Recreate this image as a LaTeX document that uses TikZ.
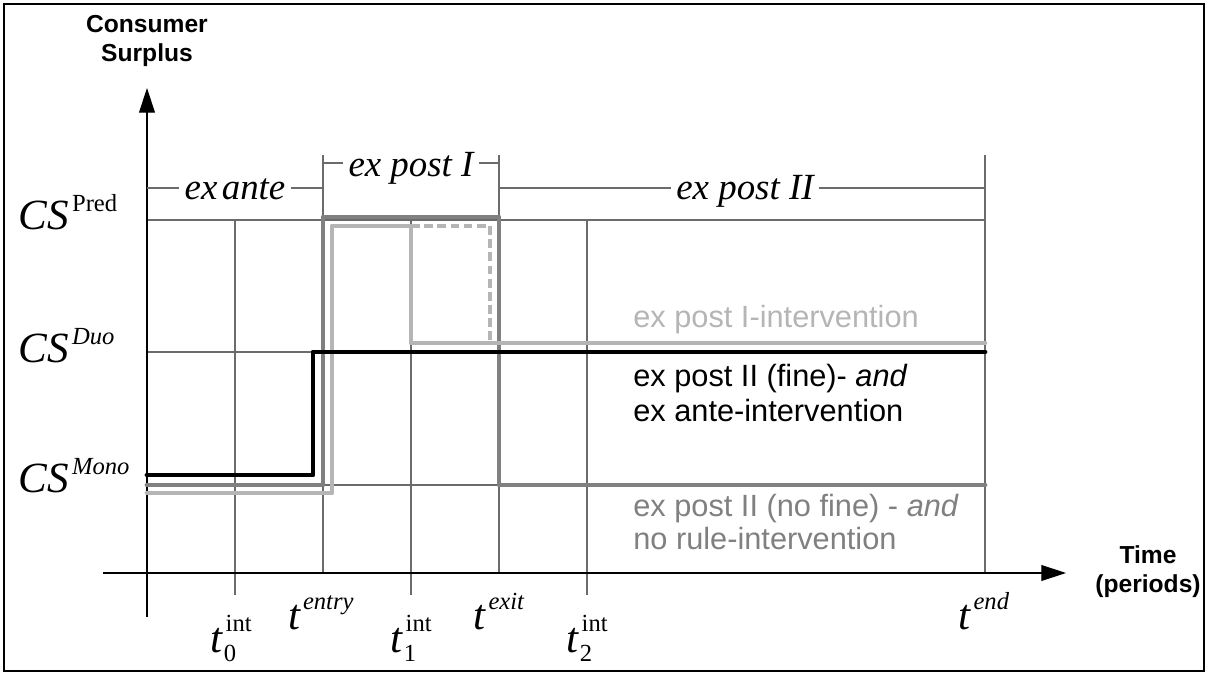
\documentclass[tikz,border=0pt]{standalone}
\usepackage{fontspec}
\setmainfont{Liberation Serif}
\setsansfont{Liberation Sans}
\usetikzlibrary{arrows.meta}
\newcommand{\CSlab}[1]{\textit{CS}\kern2pt\raisebox{10.5pt}{\fontsize{14}{14}\selectfont #1}}
\newcommand{\tsup}[1]{\textit{t}\kern1pt\raisebox{11.5pt}{\fontsize{14}{14}\selectfont\itshape #1}}
\newcommand{\tint}[1]{\textit{t}\kern0.5pt\rlap{\raisebox{-5pt}{\fontsize{14}{14}\selectfont #1}}\kern1pt\raisebox{12pt}{\fontsize{14}{14}\selectfont int}}

\begin{document}
\begin{tikzpicture}[x=0.02cm,y=-0.02cm,
  grid/.style={line width=0.6pt,color=cgrid},
  axis/.style={line width=0.6pt,-{Triangle[length=14pt,width=9pt]}},
  curve/.style={line width=2.8pt,line cap=round,line join=round},
  big/.style={font=\fontsize{24.5}{24.5}\selectfont,inner sep=0pt},
  phase/.style={font=\fontsize{21}{21}\selectfont\itshape,inner sep=3pt,anchor=base},
  legend/.style={font=\sffamily\fontsize{17.5}{17.5}\selectfont,anchor=base west,inner sep=0pt},
  axlabel/.style={font=\sffamily\bfseries\fontsize{14}{16.5}\selectfont,align=center}]
\definecolor{cgrid}{rgb}{0.42,0.42,0.42}
\definecolor{cdark}{rgb}{0.502,0.502,0.502}
\definecolor{clight}{rgb}{0.71,0.71,0.71}
\definecolor{cfine}{rgb}{0.0,0.0,0.0}
%
\useasboundingbox (0,0) rectangle (1208,675);
\draw[line width=1.1pt] (4,4) rectangle (1204,671);
%
\draw[grid] (147,220) -- (985,220);
\draw[grid] (147,352) -- (985,352);
\draw[grid] (147,485) -- (985,485);
\draw[grid] (235,220) -- (235,595);
\draw[grid] (411,220) -- (411,595);
\draw[grid] (587,220) -- (587,595);
\draw[grid] (323,155) -- (323,573);
\draw[grid] (499,155) -- (499,573);
\draw[grid] (985,155) -- (985,573);
%
\draw[axis] (147,617) -- (147,88);
\draw[axis] (103,573) -- (1066,573);
\node[axlabel] (cslabel) at (147,41) {Consumer\\Surplus};
\node[axlabel] (timelabel) at (1148,572) {Time\\(periods)};
%
\node[phase] (exante) at (235,200) {ex\hspace{0.12em}ante};
\node[phase] (expostI) at (411,177) {ex post I};
\node[phase] (expostII) at (745,200) {ex post II};
\coordinate (ba0) at (147,188);
\coordinate (ba1) at (323,188);
\coordinate (bb0) at (323,163);
\coordinate (bb1) at (499,163);
\coordinate (bc0) at (499,188);
\coordinate (bc1) at (985,188);
\draw[grid] (ba0) -- (ba0 -| exante.west);
\draw[grid] (exante.east |- ba1) -- (ba1);
\draw[grid] (bb0) -- (bb0 -| expostI.west);
\draw[grid] (expostI.east |- bb1) -- (bb1);
\draw[grid] (bc0) -- (bc0 -| expostII.west);
\draw[grid] (expostII.east |- bc1) -- (bc1);
%
\node[big,anchor=base west] (cspred) at (18,230) {\CSlab{Pred}};
\node[big,anchor=base west] (csduo) at (18,363) {\CSlab{\itshape Duo}};
\node[big,anchor=base west] (csmono) at (18,493) {\CSlab{\itshape Mono}};
%
\node[big,anchor=base] (t0) at (231,653) {\tint{0}};
\node[big,anchor=base] (tentry) at (321,630) {\tsup{entry}};
\node[big,anchor=base] (t1) at (411,653) {\tint{1}};
\node[big,anchor=base] (texit) at (499,630) {\tsup{exit}};
\node[big,anchor=base] (t2) at (587,653) {\tint{2}};
\node[big,anchor=base] (tend) at (984,630) {\tsup{end}};
%
\draw[curve,cdark] (147,485) -- (323,485) -- (323,217) -- (499,217) -- (499,485) -- (985,485);
\draw[curve,clight] (147,493) -- (332,493) -- (332,226) -- (411,226) -- (411,343) -- (985,343);
\draw[clight,line width=1.8pt,dash pattern=on 5pt off 2.5pt] (411,226) -- (490,226) -- (490,343);
\draw[curve,cfine] (147,475) -- (313,475) -- (313,352) -- (985,352);
%
\node[legend,text=clight] (lpostI) at (633,328) {ex post I-intervention};
\node[legend,text=cfine] (lfine) at (633,387) {ex post II (fine)- \textit{and}};
\node[legend,text=cfine] (lante) at (633,422) {ex ante-intervention};
\node[legend,text=cdark] (lnofine) at (633,517) {ex post II (no fine) - \textit{and}};
\node[legend,text=cdark] (lnorule) at (633,550) {no rule-intervention};
\end{tikzpicture}
\end{document}
